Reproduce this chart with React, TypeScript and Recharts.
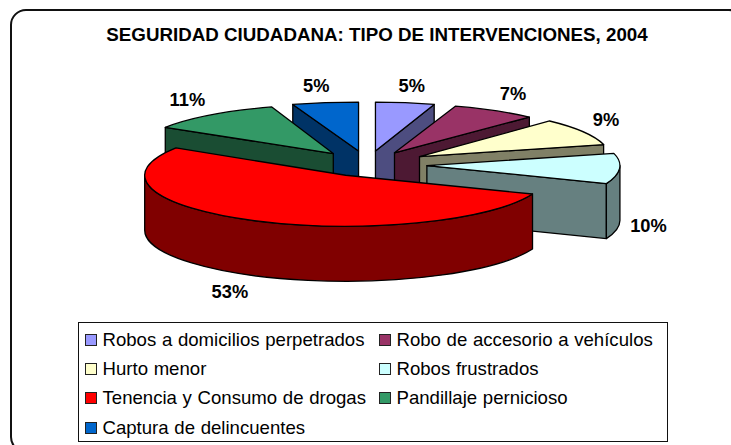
import { PieChart, Pie, Legend } from 'recharts'

const names = [
  'Robos a domicilios perpetrados',
  'Robo de accesorio a vehículos',
  'Hurto menor',
  'Robos frustrados',
  'Tenencia y Consumo de drogas',
  'Pandillaje pernicioso',
  'Captura de delincuentes',
]
const shares = [5, 7, 9, 10, 53, 11, 5]
const topColors = ['#9999FF', '#993366', '#FFFFCC', '#CCFFFF', '#FF0000', '#339966', '#0066CC']
const wallColors = ['#4D4D80', '#4D1933', '#808066', '#668080', '#800000', '#1A4D33', '#003366']

// back to front, the big slice has to cover the others
const drawOrder = [0, 1, 2, 3, 6, 5, 4]

// fake 3d look, the original has a bit of perspective so slices differ slightly
const sliceExplode = [54, 54, 61, 60, 47, 55, 54]
const sliceWidth = [0.96, 0.995, 0.96, 0.975, 1.015, 1.005, 1.075]
const labelNudge = [
  [1, 1.5], [3.5, -1], [-2, -3], [2, 0], [-10, -2.6], [-8, 0], [-7, 2],
]

const rows = names.map((name, i) => ({ name, value: shares[i] }))

const TILT = 0.254
const RY = 49
const DEPTH = 55

const rad = (d: number) => (d * Math.PI) / 180

function Slice3D(props: any) {
  const { cx, cy, outerRadius, startAngle, endAngle, name } = props
  const i = names.indexOf(name)
  // recharts angles -> clockwise from the top
  const a0 = 90 - startAngle
  const a1 = 90 - endAngle
  const mid = (a0 + a1) / 2
  const ax = cx + sliceExplode[i] * Math.sin(rad(mid))
  const ay = cy - sliceExplode[i] * TILT * Math.cos(rad(mid))
  const R = outerRadius * sliceWidth[i]
  const ry = i === 4 ? RY + 2 : RY
  const pt = (a: number) => [ax + R * Math.sin(rad(a)), ay - ry * Math.cos(rad(a))]
  const [sx, sy] = pt(a0)
  const [ex, ey] = pt(a1)
  const large = a1 - a0 > 180 ? 1 : 0
  const top = `M${ax},${ay} L${sx},${sy} A${R},${ry} 0 ${large} 1 ${ex},${ey} Z`
  const face = (x: number, y: number) =>
    `M${ax},${ay} L${x},${y} L${x},${y + DEPTH} L${ax},${ay + DEPTH} Z`
  const line = { stroke: '#000', strokeWidth: 1.3, strokeLinejoin: 'round' as const }

  const rimFrom = Math.max(a0, 90)
  const rimTo = Math.min(a1, 270)
  let rim = ''
  if (rimTo > rimFrom) {
    const [rx0, ry0] = pt(rimFrom)
    const [rx1, ry1] = pt(rimTo)
    rim = `M${rx0},${ry0} A${R},${ry} 0 0 1 ${rx1},${ry1} L${rx1},${ry1 + DEPTH} A${R},${ry} 0 0 0 ${rx0},${ry0 + DEPTH} Z`
  }

  return (
    <g>
      {Math.sin(rad(a0)) < -0.001 && <path d={face(sx, sy)} fill={wallColors[i]} {...line} />}
      {Math.sin(rad(a1)) > 0.001 && <path d={face(ex, ey)} fill={wallColors[i]} {...line} />}
      {rim && <path d={rim} fill={wallColors[i]} {...line} />}
      <path d={top} fill={topColors[i]} {...line} />
    </g>
  )
}

function PercentLabel(props: any) {
  const { cx, cy, midAngle, name, value } = props
  const i = names.indexOf(name)
  const a = 90 - midAngle
  const front = Math.cos(rad(a)) < 0
  const x = cx + 280 * Math.sin(rad(a)) + labelNudge[i][0]
  const y = cy - 82 * Math.cos(rad(a)) + (front ? 56 : 0) + labelNudge[i][1]
  return (
    <text x={x} y={y} textAnchor="middle" dominantBaseline="central"
      fontFamily="Liberation Sans" fontWeight="bold" fontSize={18.3} fill="#000">
      {value}%
    </text>
  )
}

function LegendBox() {
  return (
    <div style={{
      boxSizing: 'border-box', width: 590, height: 120, border: '1.5px solid #111', background: '#fff',
      padding: '2px 0 0 6.5px', display: 'grid', gridTemplateColumns: '294px 1fr', gridAutoRows: '29.3px',
      fontFamily: 'Liberation Sans', fontSize: 18.6, color: '#000', alignItems: 'center',
    }}>
      {names.map((n, i) => (
        <div key={n} style={{ display: 'flex', alignItems: 'center', whiteSpace: 'nowrap' }}>
          <span style={{
            boxSizing: 'border-box', width: 12, height: 12, marginRight: 5.5,
            background: topColors[i], border: '1.5px solid #222',
          }} />
          <span style={{ wordSpacing: 0.5 }}>{n}</span>
        </div>
      ))}
    </div>
  )
}

export default function App() {
  return (
    <div style={{ position: 'absolute', left: 0, top: 0, width: 731, height: 445, overflow: 'hidden', background: '#fff' }}>
      <div style={{
        position: 'absolute', left: 10, top: 8.5, width: 735, height: 444,
        border: '2px solid #111', borderRadius: 16, boxSizing: 'border-box',
      }} />
      <div style={{ position: 'absolute', left: 0, top: 0 }}>
        <PieChart width={731} height={445} margin={{ top: 0, right: 0, bottom: 0, left: 0 }}>
          <text x={377} y={34} textAnchor="middle" dominantBaseline="central"
            fontFamily="Liberation Sans" fontWeight="bold" fontSize={18.75} fill="#000">
            SEGURIDAD CIUDADANA: TIPO DE INTERVENCIONES, 2004
          </text>
          {drawOrder.map((idx, n) => {
            const shape = (p: any) => (p.name === names[idx] ? <Slice3D {...p} /> : <g />)
            return (
              <Pie
                key={names[idx]}
                data={rows}
                dataKey="value"
                nameKey="name"
                cx={367}
                cy={164.6}
                outerRadius={198}
                startAngle={90}
                endAngle={-270}
                legendType="none"
                isAnimationActive={false}
                shape={shape}
                inactiveShape={shape}
                activeShape={shape}
                label={n === drawOrder.length - 1 ? (p: any) => <PercentLabel {...p} /> : false}
                labelLine={false}
              />
            )
          })}
          <Legend
            content={() => <LegendBox />}
            wrapperStyle={{ position: 'absolute', left: 77.5, top: 322, width: 590, height: 120, bottom: 'auto' }}
          />
        </PieChart>
      </div>
    </div>
  )
}
